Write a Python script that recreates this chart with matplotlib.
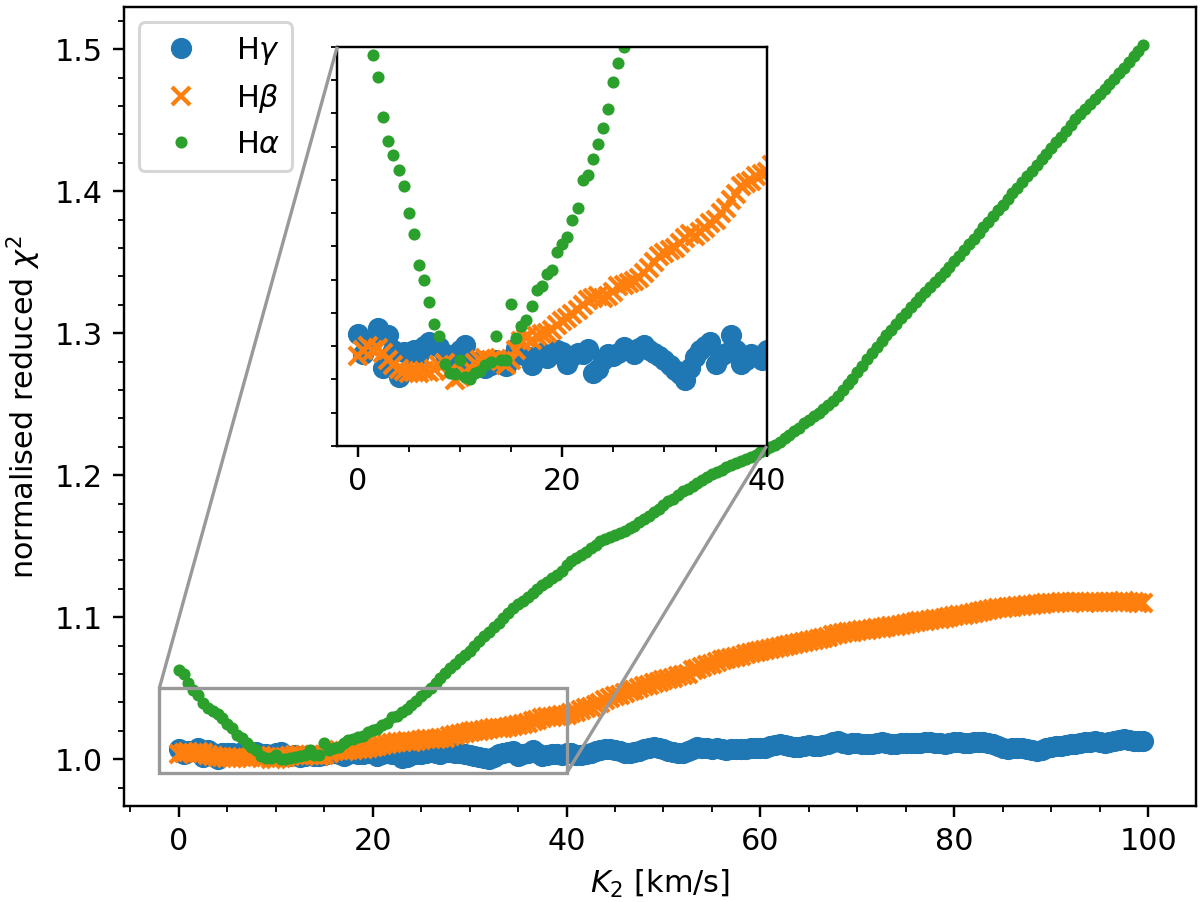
import numpy as np
import matplotlib
matplotlib.use("Agg")
import matplotlib.pyplot as plt
from matplotlib.ticker import MultipleLocator, NullLocator
from mpl_toolkits.axes_grid1.inset_locator import mark_inset

# K2 grid (km/s), step 0.5
K2 = np.arange(0.0, 100.0, 0.5)

H_gamma = [
    1.0069, 1.0039, 1.0057, 1.0060, 1.0077, 1.0017, 1.0067, 1.0045, 1.0004, 1.0042,
    1.0040, 1.0045, 1.0038, 1.0050, 1.0057, 1.0052, 1.0049, 1.0038, 1.0037, 1.0030,
    1.0045, 1.0052, 1.0024, 1.0020, 1.0028, 1.0018, 1.0022, 1.0030, 1.0025, 1.0020,
    1.0032, 1.0047, 1.0040, 1.0035, 1.0022, 1.0036, 1.0040, 1.0033, 1.0038, 1.0045,
    1.0042, 1.0024, 1.0035, 1.0040, 1.0038, 1.0046, 1.0009, 1.0015, 1.0030, 1.0039,
    1.0035, 1.0040, 1.0049, 1.0044, 1.0038, 1.0047, 1.0052, 1.0045, 1.0040, 1.0036,
    1.0029, 1.0022, 1.0014, 1.0008, 0.9999, 1.0018, 1.0034, 1.0045, 1.0050, 1.0057,
    1.0024, 1.0035, 1.0040, 1.0067, 1.0045, 1.0024, 1.0030, 1.0039, 1.0035, 1.0029,
    1.0045, 1.0040, 1.0030, 1.0028, 1.0035, 1.0045, 1.0055, 1.0062, 1.0070, 1.0075,
    1.0068, 1.0058, 1.0045, 1.0040, 1.0048, 1.0060, 1.0070, 1.0082, 1.0087, 1.0080,
    1.0072, 1.0060, 1.0048, 1.0040, 1.0045, 1.0060, 1.0075, 1.0087, 1.0082, 1.0076,
    1.0075, 1.0078, 1.0072, 1.0068, 1.0070, 1.0075, 1.0074, 1.0072, 1.0076, 1.0080,
    1.0078, 1.0082, 1.0090, 1.0100, 1.0110, 1.0102, 1.0092, 1.0085, 1.0088, 1.0095,
    1.0100, 1.0095, 1.0090, 1.0098, 1.0110, 1.0120, 1.0128, 1.0115, 1.0108, 1.0112,
    1.0115, 1.0110, 1.0104, 1.0110, 1.0116, 1.0118, 1.0112, 1.0106, 1.0108, 1.0112,
    1.0115, 1.0117, 1.0116, 1.0114, 1.0118, 1.0121, 1.0117, 1.0112, 1.0110, 1.0114,
    1.0118, 1.0120, 1.0115, 1.0112, 1.0118, 1.0122, 1.0120, 1.0112, 1.0106, 1.0095,
    1.0080, 1.0074, 1.0078, 1.0082, 1.0076, 1.0070, 1.0064, 1.0060, 1.0068, 1.0078,
    1.0085, 1.0090, 1.0095, 1.0100, 1.0104, 1.0108, 1.0112, 1.0118, 1.0124, 1.0130,
    1.0122, 1.0115, 1.0120, 1.0128, 1.0135, 1.0140, 1.0132, 1.0126, 1.0130, 1.0128,
]

H_beta = [
    1.0035, 1.0045, 1.0050, 1.0045, 1.0048, 1.0040, 1.0030, 1.0022, 1.0015, 1.0012,
    1.0010, 1.0011, 1.0010, 1.0012, 1.0011, 1.0015, 1.0022, 1.0025, 1.0012, 0.9999,
    1.0003, 1.0010, 1.0018, 1.0025, 1.0030, 1.0032, 1.0030, 1.0031, 1.0028, 1.0022,
    1.0030, 1.0045, 1.0058, 1.0062, 1.0060, 1.0065, 1.0068, 1.0070, 1.0075, 1.0082,
    1.0088, 1.0092, 1.0098, 1.0105, 1.0112, 1.0120, 1.0122, 1.0125, 1.0123, 1.0126,
    1.0132, 1.0140, 1.0142, 1.0145, 1.0148, 1.0152, 1.0160, 1.0168, 1.0176, 1.0185,
    1.0190, 1.0195, 1.0198, 1.0205, 1.0212, 1.0218, 1.0216, 1.0222, 1.0228, 1.0235,
    1.0240, 1.0250, 1.0258, 1.0270, 1.0278, 1.0290, 1.0295, 1.0298, 1.0305, 1.0308,
    1.0312, 1.0322, 1.0335, 1.0345, 1.0358, 1.0370, 1.0385, 1.0398, 1.0415, 1.0430,
    1.0445, 1.0455, 1.0468, 1.0478, 1.0490, 1.0500, 1.0512, 1.0522, 1.0535, 1.0545,
    1.0556, 1.0565, 1.0575, 1.0583, 1.0590, 1.0600, 1.0625, 1.0635, 1.0648, 1.0660,
    1.0672, 1.0683, 1.0695, 1.0705, 1.0712, 1.0722, 1.0730, 1.0740, 1.0748, 1.0758,
    1.0765, 1.0772, 1.0778, 1.0785, 1.0792, 1.0800, 1.0806, 1.0813, 1.0820, 1.0826,
    1.0832, 1.0838, 1.0845, 1.0850, 1.0858, 1.0872, 1.0880, 1.0888, 1.0893, 1.0898,
    1.0903, 1.0908, 1.0912, 1.0918, 1.0922, 1.0926, 1.0930, 1.0935, 1.0940, 1.0946,
    1.0952, 1.0958, 1.0964, 1.0970, 1.0976, 1.0980, 1.0985, 1.0990, 1.0995, 1.1000,
    1.1005, 1.1012, 1.1018, 1.1025, 1.1032, 1.1038, 1.1045, 1.1052, 1.1058, 1.1063,
    1.1068, 1.1072, 1.1075, 1.1078, 1.1082, 1.1085, 1.1088, 1.1092, 1.1095, 1.1098,
    1.1100, 1.1102, 1.1104, 1.1105, 1.1106, 1.1105, 1.1104, 1.1103, 1.1104, 1.1105,
    1.1106, 1.1107, 1.1106, 1.1105, 1.1108, 1.1112, 1.1110, 1.1105, 1.1102, 1.1100,
]

H_alpha = [
    1.0630, 1.0600, 1.0535, 1.0487, 1.0455, 1.0395, 1.0359, 1.0338, 1.0315, 1.0290,
    1.0250, 1.0219, 1.0172, 1.0149, 1.0116, 1.0083, 1.0066, 1.0024, 1.0009, 1.0008,
    1.0029, 1.0003, 1.0000, 1.0009, 1.0012, 1.0022, 1.0027, 1.0066, 1.0029, 1.0030,
    1.0114, 1.0062, 1.0081, 1.0089, 1.0111, 1.0134, 1.0141, 1.0158, 1.0165, 1.0191,
    1.0204, 1.0214, 1.0239, 1.0257, 1.0300, 1.0307, 1.0332, 1.0354, 1.0378, 1.0407,
    1.0447, 1.0476, 1.0500, 1.0535, 1.0570, 1.0605, 1.0640, 1.0672, 1.0705, 1.0735,
    1.0765, 1.0797, 1.0832, 1.0870, 1.0898, 1.0928, 1.0962, 1.0997, 1.1032, 1.1062,
    1.1092, 1.1117, 1.1143, 1.1172, 1.1198, 1.1228, 1.1250, 1.1275, 1.1300, 1.1326,
    1.1370, 1.1395, 1.1420, 1.1440, 1.1460, 1.1485, 1.1505, 1.1535, 1.1550, 1.1565,
    1.1580, 1.1595, 1.1610, 1.1625, 1.1645, 1.1670, 1.1690, 1.1715, 1.1740, 1.1765,
    1.1790, 1.1815, 1.1835, 1.1860, 1.1890, 1.1905, 1.1925, 1.1945, 1.1965, 1.1985,
    1.2005, 1.2020, 1.2035, 1.2055, 1.2070, 1.2085, 1.2100, 1.2115, 1.2130, 1.2145,
    1.2160, 1.2178, 1.2195, 1.2215, 1.2235, 1.2260, 1.2285, 1.2310, 1.2335, 1.2365,
    1.2390, 1.2415, 1.2440, 1.2465, 1.2495, 1.2525, 1.2560, 1.2600, 1.2640, 1.2680,
    1.2725, 1.2770, 1.2815, 1.2860, 1.2905, 1.2945, 1.2985, 1.3025, 1.3065, 1.3105,
    1.3145, 1.3185, 1.3220, 1.3255, 1.3290, 1.3325, 1.3360, 1.3395, 1.3430, 1.3465,
    1.3505, 1.3545, 1.3585, 1.3625, 1.3665, 1.3705, 1.3745, 1.3785, 1.3825, 1.3865,
    1.3905, 1.3945, 1.3985, 1.4025, 1.4065, 1.4105, 1.4145, 1.4185, 1.4225, 1.4265,
    1.4305, 1.4345, 1.4385, 1.4425, 1.4465, 1.4505, 1.4545, 1.4580, 1.4615, 1.4650,
    1.4685, 1.4720, 1.4755, 1.4790, 1.4830, 1.4870, 1.4910, 1.4950, 1.4990, 1.5030,
]

labels = [r"H$\gamma$", r"H$\beta$", r"H$\alpha$"]
markers = ["o", "x", "."]
edge_widths = [1.0, 1.4, 1.0]
series = [H_gamma, H_beta, H_alpha]

DPI = 218
fig = plt.figure(figsize=(1200 / DPI, 902 / DPI), dpi=DPI)
ax = fig.add_axes([0.1033, 0.1064, 0.8931, 0.8855])

for y, m, mew, lab in zip(series, markers, edge_widths, labels):
    ax.plot(K2, y, m, linestyle="none", mew=mew, label=lab)

ax.set_xlim(-5.65, 104.9)
ax.set_ylim(0.967, 1.5295)
ax.xaxis.set_major_locator(MultipleLocator(20))
ax.xaxis.set_minor_locator(MultipleLocator(5))
ax.yaxis.set_major_locator(MultipleLocator(0.1))
ax.yaxis.set_minor_locator(MultipleLocator(0.02))
ax.set_xlabel(r"$K_2$ [km/s]")
ax.set_ylabel(r"normalised reduced $\chi^2$")
ax.legend(loc="upper left")

axins = ax.inset_axes([0.199, 0.4507, 0.4007, 0.5])
for y, m, mew, lab in zip(series, markers, edge_widths, labels):
    axins.plot(K2, y, m, linestyle="none", mew=mew)
axins.set_xlim(-2, 40)
axins.set_ylim(0.99, 1.05)
axins.xaxis.set_major_locator(MultipleLocator(20))
axins.xaxis.set_minor_locator(MultipleLocator(5))
axins.yaxis.set_major_locator(NullLocator())
axins.yaxis.set_minor_locator(MultipleLocator(0.005))

pp, p1, p2 = mark_inset(ax, axins, loc1=2, loc2=4, fc="none", ec="0.6", lw=1.1)
for art in (pp, p1, p2):
    art.set_zorder(5)

fig.savefig("out.png", dpi=DPI)
